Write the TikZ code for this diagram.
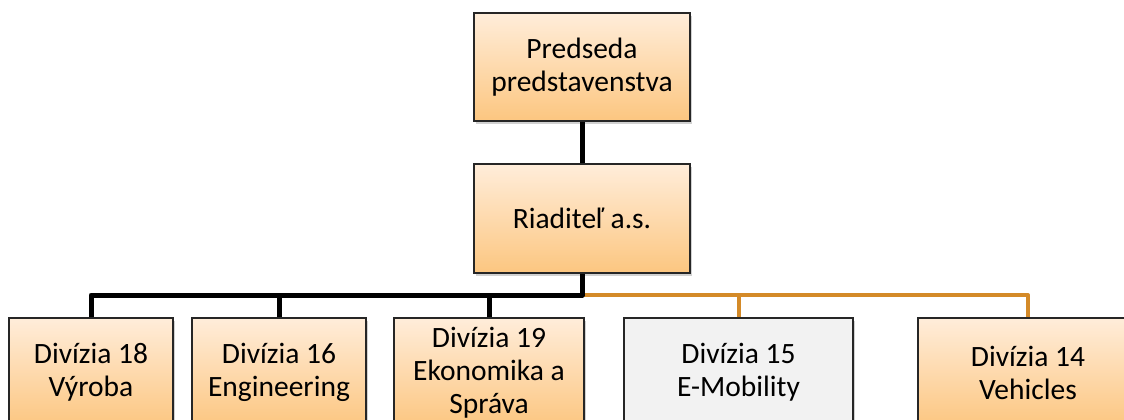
\documentclass[tikz,border=0pt]{standalone}
\usepackage{fontspec}
\setmainfont{Carlito}
\usetikzlibrary{shadows}
\definecolor{boxtop}{RGB}{255,237,218}
\definecolor{boxbot}{RGB}{252,198,128}
\definecolor{boxgray}{RGB}{242,242,242}
\definecolor{linkorange}{RGB}{212,138,40}

\begin{document}
\begin{tikzpicture}[x=1pt,y=-1pt,
    orgbox/.style={draw=black!85,line width=1.6pt,align=center,inner sep=0pt,
      minimum height=109pt,top color=boxtop,bottom color=boxbot,
      font=\fontsize{29.5}{33}\selectfont,
      drop shadow={shadow xshift=2pt,shadow yshift=-3pt,opacity=0.3,fill=black!60}},
    graybox/.style={orgbox,top color=boxgray,bottom color=boxgray},
    blackline/.style={draw=black,line width=5pt,line join=round},
    orangeline/.style={draw=linkorange,line width=4pt,line join=round}]
      \useasboundingbox (0,0) rectangle (1124,420);
      % top of the chart
      \node[orgbox,minimum width=216pt,minimum height=108pt] (pred) at (582,67) {Predseda\\predstavenstva};
      \node[orgbox,minimum width=216pt] (riad) at (582,218.5) {Riaditeľ a.s.};
      % divisions
      \node[orgbox,minimum width=164pt] (d18) at (91,372.5) {Divízia 18\\Výroba};
      \node[orgbox,minimum width=174pt] (d16) at (279,372.5) {Divízia 16\\Engineering};
      \node[orgbox,minimum width=190pt] (d19) at (489,372.5) {Divízia 19\\Ekonomika a\\Správa};
      \node[graybox,minimum width=229pt] (d15) at (738.5,372.5) {Divízia 15\\E-Mobility};
      \node[orgbox,minimum width=220pt] (d14) at (1028,372.5) {Divízia 14\\Vehicles};
      \coordinate (bus) at (582,295);
      \draw[blackline] (pred) -- (riad);
      \draw[orangeline] (bus) -| (d15.north);
      \draw[orangeline] (bus) -| (d14.north);
      \draw[blackline] (riad.south) -- (bus) -| (d18.north);
      \draw[blackline] (bus) -| (d16.north);
      \draw[blackline] (bus) -| (d19.north);
\end{tikzpicture}
\end{document}
